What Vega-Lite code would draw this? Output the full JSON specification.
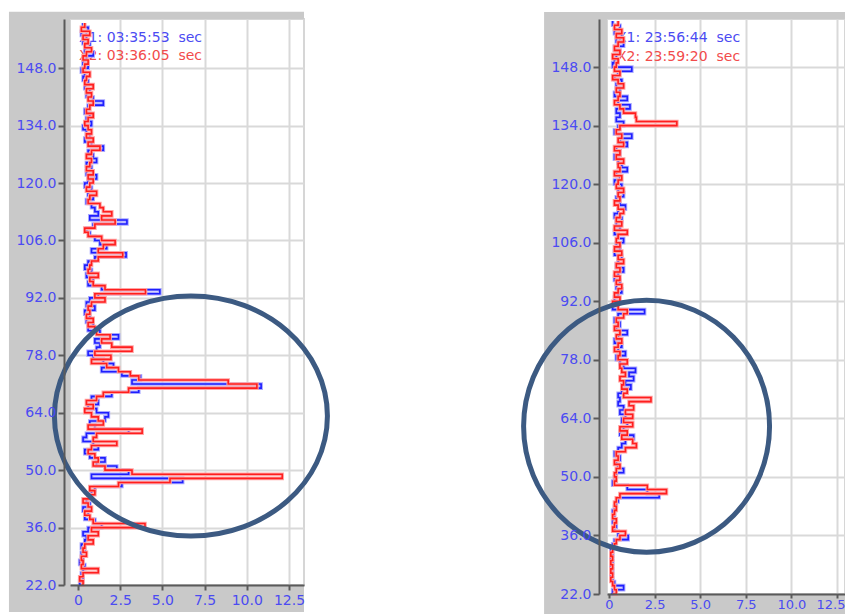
{
  "$schema": "https://vega.github.io/schema/vega-lite/v6.json",
  "background": "white",
  "padding": {"left": 7, "top": 10, "right": 0, "bottom": 0},
  "bounds": "flush",
  "spacing": 303,
  "config": {
    "font": "DejaVu Sans",
    "view": {"fill": "white", "stroke": "#d6d6d6", "strokeWidth": 2},
    "axis": {
      "labelFont": "DejaVu Sans", "labelFontSize": 14, "labelColor": "#4b4bf2",
      "domainColor": "#5a5a5a", "domainWidth": 2, "tickColor": "#5a5a5a", "tickWidth": 2,
      "gridColor": "#d9d9d9", "gridWidth": 2
    }
  },
  "datasets": {
    "left": [
      {"y": 159, "b": 0.3, "r": 0.4}, {"y": 158, "b": 0.6, "r": 0.2}, {"y": 157, "b": 0.2, "r": 0.7},
      {"y": 156, "b": 0.5, "r": 0.3}, {"y": 155, "b": 0.3, "r": 0.6}, {"y": 154, "b": 0.7, "r": 0.4},
      {"y": 153, "b": 0.4, "r": 0.8}, {"y": 152, "b": 0.9, "r": 0.5}, {"y": 151, "b": 0.5, "r": 0.3},
      {"y": 150, "b": 0.3, "r": 0.6}, {"y": 149, "b": 0.6, "r": 0.4}, {"y": 148, "b": 0.2, "r": 0.3},
      {"y": 147, "b": 0.4, "r": 0.7}, {"y": 146, "b": 0.3, "r": 0.5}, {"y": 145, "b": 0.6, "r": 0.4},
      {"y": 144, "b": 0.4, "r": 0.9}, {"y": 143, "b": 0.7, "r": 0.5}, {"y": 142, "b": 0.5, "r": 0.8},
      {"y": 141, "b": 0.9, "r": 0.6}, {"y": 140, "b": 1.5, "r": 0.9}, {"y": 139, "b": 0.6, "r": 0.7},
      {"y": 138, "b": 0.4, "r": 0.5}, {"y": 137, "b": 0.7, "r": 0.9}, {"y": 136, "b": 0.5, "r": 0.6},
      {"y": 135, "b": 0.8, "r": 0.4}, {"y": 134, "b": 0.3, "r": 0.6}, {"y": 133, "b": 0.5, "r": 0.8},
      {"y": 132, "b": 0.7, "r": 0.5}, {"y": 131, "b": 0.4, "r": 0.9}, {"y": 130, "b": 0.8, "r": 0.6},
      {"y": 129, "b": 1.5, "r": 1.3}, {"y": 128, "b": 0.6, "r": 0.8}, {"y": 127, "b": 0.9, "r": 0.5},
      {"y": 126, "b": 1.1, "r": 0.8}, {"y": 125, "b": 0.5, "r": 0.7}, {"y": 124, "b": 0.8, "r": 0.5},
      {"y": 123, "b": 0.5, "r": 0.9}, {"y": 122, "b": 1.1, "r": 0.6}, {"y": 121, "b": 0.6, "r": 0.9},
      {"y": 120, "b": 0.4, "r": 0.7}, {"y": 119, "b": 0.8, "r": 0.5}, {"y": 118, "b": 0.6, "r": 1.1},
      {"y": 117, "b": 0.9, "r": 0.7}, {"y": 116, "b": 0.5, "r": 0.6}, {"y": 115, "b": 0.8, "r": 1.3},
      {"y": 114, "b": 1.0, "r": 1.5}, {"y": 113, "b": 1.2, "r": 2.0}, {"y": 112, "b": 0.7, "r": 1.4},
      {"y": 111, "b": 2.9, "r": 2.2}, {"y": 110, "b": 0.9, "r": 1.0}, {"y": 109, "b": 0.5, "r": 0.4},
      {"y": 108, "b": 0.7, "r": 0.6}, {"y": 107, "b": 1.0, "r": 1.4}, {"y": 106, "b": 1.3, "r": 2.2},
      {"y": 105, "b": 1.7, "r": 1.5}, {"y": 104, "b": 0.8, "r": 1.2}, {"y": 103, "b": 2.85, "r": 2.65},
      {"y": 102, "b": 1.0, "r": 1.2}, {"y": 101, "b": 0.6, "r": 0.8}, {"y": 100, "b": 0.4, "r": 0.7},
      {"y": 99, "b": 0.8, "r": 0.6}, {"y": 98, "b": 0.5, "r": 1.2}, {"y": 97, "b": 0.9, "r": 0.7},
      {"y": 96, "b": 0.6, "r": 0.9}, {"y": 95, "b": 1.4, "r": 1.6}, {"y": 94, "b": 4.85, "r": 4.0},
      {"y": 93, "b": 1.2, "r": 1.0}, {"y": 92, "b": 0.7, "r": 1.6}, {"y": 91, "b": 0.5, "r": 0.8},
      {"y": 90, "b": 1.0, "r": 0.6}, {"y": 89, "b": 0.4, "r": 0.7}, {"y": 88, "b": 0.7, "r": 0.5},
      {"y": 87, "b": 0.5, "r": 0.9}, {"y": 86, "b": 0.9, "r": 0.6}, {"y": 85, "b": 0.6, "r": 1.0},
      {"y": 84, "b": 1.3, "r": 1.1}, {"y": 83, "b": 2.4, "r": 1.9}, {"y": 82, "b": 1.0, "r": 1.4},
      {"y": 81, "b": 1.3, "r": 2.0}, {"y": 80, "b": 1.1, "r": 3.2}, {"y": 79, "b": 0.6, "r": 1.0},
      {"y": 78, "b": 0.9, "r": 1.95}, {"y": 77, "b": 1.5, "r": 0.8}, {"y": 76, "b": 2.1, "r": 1.7},
      {"y": 75, "b": 1.4, "r": 2.4}, {"y": 74, "b": 2.6, "r": 3.1}, {"y": 73, "b": 3.7, "r": 3.6},
      {"y": 72, "b": 3.2, "r": 8.9}, {"y": 71, "b": 10.85, "r": 10.6}, {"y": 70, "b": 3.6, "r": 3.0},
      {"y": 69, "b": 2.0, "r": 1.5}, {"y": 68, "b": 0.8, "r": 1.1}, {"y": 67, "b": 1.2, "r": 0.5},
      {"y": 66, "b": 0.6, "r": 0.9}, {"y": 65, "b": 1.1, "r": 0.4}, {"y": 64, "b": 1.8, "r": 0.8},
      {"y": 63, "b": 1.6, "r": 1.2}, {"y": 62, "b": 0.7, "r": 1.5}, {"y": 61, "b": 1.0, "r": 0.6},
      {"y": 60, "b": 3.0, "r": 3.8}, {"y": 59, "b": 0.5, "r": 1.1}, {"y": 58, "b": 0.3, "r": 0.9},
      {"y": 57, "b": 0.9, "r": 2.3}, {"y": 56, "b": 1.2, "r": 0.8}, {"y": 55, "b": 0.4, "r": 0.6},
      {"y": 54, "b": 0.7, "r": 1.0}, {"y": 53, "b": 1.6, "r": 1.2}, {"y": 52, "b": 1.1, "r": 0.9},
      {"y": 51, "b": 2.3, "r": 1.6}, {"y": 50, "b": 3.0, "r": 3.2}, {"y": 49, "b": 0.8, "r": 12.1},
      {"y": 48, "b": 6.2, "r": 5.45}, {"y": 47, "b": 2.6, "r": 2.4}, {"y": 46, "b": 1.0, "r": 0.7},
      {"y": 45, "b": 0.8, "r": 1.0}, {"y": 44, "b": 0.6, "r": 0.7}, {"y": 43, "b": 0.5, "r": 0.3},
      {"y": 42, "b": 0.7, "r": 0.6}, {"y": 41, "b": 0.3, "r": 0.8}, {"y": 40, "b": 0.6, "r": 0.4},
      {"y": 39, "b": 0.4, "r": 0.7}, {"y": 38, "b": 1.0, "r": 0.9}, {"y": 37, "b": 1.4, "r": 3.97},
      {"y": 36, "b": 0.6, "r": 0.8}, {"y": 35, "b": 0.3, "r": 1.2}, {"y": 34, "b": 0.5, "r": 0.6},
      {"y": 33, "b": 0.4, "r": 0.9}, {"y": 32, "b": 0.2, "r": 0.4}, {"y": 31, "b": 0.4, "r": 0.3},
      {"y": 30, "b": 0.2, "r": 0.5}, {"y": 29, "b": 0.3, "r": 0.2}, {"y": 28, "b": 0.1, "r": 0.3},
      {"y": 27, "b": 0.4, "r": 0.2}, {"y": 26, "b": 0.3, "r": 1.2}, {"y": 25, "b": 0.2, "r": 0.3},
      {"y": 24, "b": 0.3, "r": 0.1}, {"y": 23, "b": 0.1, "r": 0.3}, {"y": 22, "b": 0.2, "r": 0.2}
    ],
    "right": [
      {"y": 159, "b": 0.2, "r": 0.5}, {"y": 158, "b": 0.6, "r": 0.3}, {"y": 157, "b": 0.3, "r": 0.7},
      {"y": 156, "b": 0.7, "r": 0.4}, {"y": 155, "b": 0.4, "r": 0.8}, {"y": 154, "b": 0.8, "r": 0.5},
      {"y": 153, "b": 0.3, "r": 0.3}, {"y": 152, "b": 0.6, "r": 0.6}, {"y": 151, "b": 0.4, "r": 0.2},
      {"y": 150, "b": 0.3, "r": 0.5}, {"y": 149, "b": 0.2, "r": 0.4}, {"y": 148, "b": 1.25, "r": 0.3},
      {"y": 147, "b": 0.5, "r": 0.6}, {"y": 146, "b": 0.3, "r": 0.2}, {"y": 145, "b": 0.7, "r": 0.5},
      {"y": 144, "b": 0.4, "r": 0.8}, {"y": 143, "b": 0.6, "r": 0.4}, {"y": 142, "b": 0.3, "r": 0.6},
      {"y": 141, "b": 1.0, "r": 0.5}, {"y": 140, "b": 0.5, "r": 0.3}, {"y": 139, "b": 1.15, "r": 0.6},
      {"y": 138, "b": 0.4, "r": 0.8}, {"y": 137, "b": 0.6, "r": 1.45}, {"y": 136, "b": 0.4, "r": 1.5},
      {"y": 135, "b": 0.8, "r": 3.72}, {"y": 134, "b": 0.5, "r": 0.6}, {"y": 133, "b": 0.3, "r": 0.4},
      {"y": 132, "b": 1.25, "r": 0.7}, {"y": 131, "b": 0.6, "r": 0.5}, {"y": 130, "b": 1.0, "r": 0.8},
      {"y": 129, "b": 0.4, "r": 0.3}, {"y": 128, "b": 0.6, "r": 0.6}, {"y": 127, "b": 0.3, "r": 0.4},
      {"y": 126, "b": 0.5, "r": 0.8}, {"y": 125, "b": 0.7, "r": 0.5}, {"y": 124, "b": 1.0, "r": 0.6},
      {"y": 123, "b": 0.4, "r": 0.3}, {"y": 122, "b": 0.6, "r": 0.7}, {"y": 121, "b": 0.3, "r": 0.5},
      {"y": 120, "b": 0.7, "r": 0.4}, {"y": 119, "b": 0.5, "r": 0.8}, {"y": 118, "b": 0.8, "r": 0.5},
      {"y": 117, "b": 0.4, "r": 0.6}, {"y": 116, "b": 0.6, "r": 0.3}, {"y": 115, "b": 0.9, "r": 0.5},
      {"y": 114, "b": 0.5, "r": 0.8}, {"y": 113, "b": 0.3, "r": 0.6}, {"y": 112, "b": 0.7, "r": 0.4},
      {"y": 111, "b": 0.4, "r": 0.7}, {"y": 110, "b": 0.6, "r": 0.3}, {"y": 109, "b": 0.3, "r": 1.0},
      {"y": 108, "b": 0.5, "r": 0.5}, {"y": 107, "b": 0.8, "r": 0.4}, {"y": 106, "b": 0.4, "r": 0.6},
      {"y": 105, "b": 0.6, "r": 0.3}, {"y": 104, "b": 0.3, "r": 0.7}, {"y": 103, "b": 0.7, "r": 0.5},
      {"y": 102, "b": 0.5, "r": 0.8}, {"y": 101, "b": 0.4, "r": 0.4}, {"y": 100, "b": 0.8, "r": 0.6},
      {"y": 99, "b": 0.5, "r": 0.3}, {"y": 98, "b": 0.3, "r": 0.6}, {"y": 97, "b": 0.6, "r": 0.4},
      {"y": 96, "b": 0.4, "r": 0.7}, {"y": 95, "b": 0.7, "r": 0.5}, {"y": 94, "b": 0.5, "r": 0.3},
      {"y": 93, "b": 0.3, "r": 0.6}, {"y": 92, "b": 0.4, "r": 0.2}, {"y": 91, "b": 0.2, "r": 0.5},
      {"y": 90, "b": 1.95, "r": 1.0}, {"y": 89, "b": 0.5, "r": 0.8}, {"y": 88, "b": 0.3, "r": 0.4},
      {"y": 87, "b": 0.6, "r": 0.5}, {"y": 86, "b": 0.4, "r": 0.3}, {"y": 85, "b": 1.0, "r": 0.6},
      {"y": 84, "b": 0.5, "r": 0.4}, {"y": 83, "b": 0.3, "r": 0.7}, {"y": 82, "b": 0.7, "r": 0.5},
      {"y": 81, "b": 0.5, "r": 0.3}, {"y": 80, "b": 0.9, "r": 0.6}, {"y": 79, "b": 0.4, "r": 0.5},
      {"y": 78, "b": 0.6, "r": 1.0}, {"y": 77, "b": 0.8, "r": 0.6}, {"y": 76, "b": 1.45, "r": 0.7},
      {"y": 75, "b": 1.1, "r": 0.9}, {"y": 74, "b": 1.35, "r": 0.6}, {"y": 73, "b": 0.9, "r": 0.8},
      {"y": 72, "b": 1.2, "r": 0.7}, {"y": 71, "b": 0.7, "r": 1.0}, {"y": 70, "b": 0.5, "r": 0.8},
      {"y": 69, "b": 0.6, "r": 2.3}, {"y": 68, "b": 0.5, "r": 1.1}, {"y": 67, "b": 0.8, "r": 1.35},
      {"y": 66, "b": 0.6, "r": 0.9}, {"y": 65, "b": 0.9, "r": 1.3}, {"y": 64, "b": 0.7, "r": 0.8},
      {"y": 63, "b": 1.0, "r": 1.3}, {"y": 62, "b": 0.8, "r": 0.6}, {"y": 61, "b": 0.6, "r": 1.0},
      {"y": 60, "b": 1.35, "r": 0.7}, {"y": 59, "b": 0.9, "r": 1.3}, {"y": 58, "b": 0.7, "r": 1.5},
      {"y": 57, "b": 0.5, "r": 0.9}, {"y": 56, "b": 0.3, "r": 0.4}, {"y": 55, "b": 0.6, "r": 0.5},
      {"y": 54, "b": 0.4, "r": 0.3}, {"y": 53, "b": 0.5, "r": 0.6}, {"y": 52, "b": 0.8, "r": 0.4},
      {"y": 51, "b": 0.4, "r": 0.3}, {"y": 50, "b": 0.3, "r": 0.4}, {"y": 49, "b": 0.2, "r": 0.3},
      {"y": 48, "b": 1.0, "r": 2.1}, {"y": 47, "b": 2.1, "r": 3.15}, {"y": 46, "b": 2.75, "r": 0.6},
      {"y": 45, "b": 0.5, "r": 0.4}, {"y": 44, "b": 0.4, "r": 0.3}, {"y": 43, "b": 0.3, "r": 0.4},
      {"y": 42, "b": 0.2, "r": 0.3}, {"y": 41, "b": 0.3, "r": 0.2}, {"y": 40, "b": 0.2, "r": 0.4},
      {"y": 39, "b": 0.4, "r": 0.3}, {"y": 38, "b": 0.3, "r": 0.2}, {"y": 37, "b": 0.5, "r": 0.9},
      {"y": 36, "b": 1.05, "r": 0.6}, {"y": 35, "b": 0.3, "r": 0.4}, {"y": 34, "b": 0.2, "r": 0.3},
      {"y": 33, "b": 0.1, "r": 0.2}, {"y": 32, "b": 0.2, "r": 0.1}, {"y": 31, "b": 0.1, "r": 0.2},
      {"y": 30, "b": 0.2, "r": 0.1}, {"y": 29, "b": 0.1, "r": 0.2}, {"y": 28, "b": 0.2, "r": 0.1},
      {"y": 27, "b": 0.1, "r": 0.2}, {"y": 26, "b": 0.2, "r": 0.1}, {"y": 25, "b": 0.3, "r": 0.2},
      {"y": 24, "b": 0.8, "r": 0.3}, {"y": 23, "b": 0.2, "r": 0.4}, {"y": 22, "b": 0.1, "r": 0.2}
    ]
  },
  "hconcat": [
    {
      "width": 234,
      "height": 566,
      "resolve": {"axis": {"x": "independent", "y": "independent"}},
      "layer": [
        {
          "data": {"values": [{}]},
          "mark": {"type": "rect", "color": "#c9c9c9"},
          "encoding": {
            "x": {"datum": -4.09, "type": "quantitative", "scale": {"domain": [-0.474, 13.39], "nice": false, "zero": false},
              "axis": {"orient": "bottom", "zindex": 1, "grid": false, "title": null, "values": [0, 2.5, 5, 7.5, 10, 12.5],
                "labelExpr": "datum.value == 0 ? '0' : format(datum.value, '.1f')", "tickSize": 5, "labelPadding": 3}},
            "x2": {"datum": -0.474},
            "y": {"datum": 15.41, "type": "quantitative", "scale": {"domain": [22, 160], "nice": false, "zero": false},
              "axis": {"orient": "left", "zindex": 1, "grid": false, "title": null, "values": [22, 36, 50, 64, 78, 92, 106, 120, 134, 148],
                "format": ".1f", "offset": 6, "tickSize": 6, "labelPadding": 2}},
            "y2": {"datum": 161.76}
          }
        },
        {
          "data": {"values": [{}]},
          "mark": {"type": "rect", "color": "#c9c9c9"},
          "encoding": {
            "x": {"datum": -0.474, "type": "quantitative", "scale": {"domain": [-0.474, 13.39], "nice": false, "zero": false}, "axis": null},
            "x2": {"datum": 13.39},
            "y": {"datum": 160, "type": "quantitative", "scale": {"domain": [22, 160], "nice": false, "zero": false}, "axis": null},
            "y2": {"datum": 161.76}
          }
        },
        {
          "data": {"values": [{}]},
          "mark": {"type": "rect", "color": "#c9c9c9"},
          "encoding": {
            "x": {"datum": -0.474, "type": "quantitative", "scale": {"domain": [-0.474, 13.39], "nice": false, "zero": false}, "axis": null},
            "x2": {"datum": 13.39},
            "y": {"datum": 15.41, "type": "quantitative", "scale": {"domain": [22, 160], "nice": false, "zero": false}, "axis": null},
            "y2": {"datum": 22}
          }
        },
        {
          "data": {"values": [{}]},
          "mark": {"type": "text", "text": "X1: 03:35:53\u00a0 sec", "align": "left", "baseline": "middle", "fontSize": 14, "font": "DejaVu Sans", "color": "#4b4bf2"},
          "encoding": {
            "x": {"datum": 0.06, "type": "quantitative", "scale": {"domain": [-0.474, 13.39], "nice": false, "zero": false}, "axis": null},
            "y": {"datum": 155.4, "type": "quantitative", "scale": {"domain": [22, 160], "nice": false, "zero": false}, "axis": null}
          }
        },
        {
          "data": {"values": [{}]},
          "mark": {"type": "text", "text": "X2: 03:36:05\u00a0 sec", "align": "left", "baseline": "middle", "fontSize": 14, "font": "DejaVu Sans", "color": "#f24b4b"},
          "encoding": {
            "x": {"datum": 0.06, "type": "quantitative", "scale": {"domain": [-0.474, 13.39], "nice": false, "zero": false}, "axis": null},
            "y": {"datum": 151.0, "type": "quantitative", "scale": {"domain": [22, 160], "nice": false, "zero": false}, "axis": null}
          }
        },
        {
          "data": {"name": "left"},
          "mark": {"type": "line", "interpolate": "step-after", "color": "#a8a8ff", "strokeWidth": 3.6},
          "encoding": {
            "x": {"field": "b", "type": "quantitative", "scale": {"domain": [-0.474, 13.39], "nice": false, "zero": false},
              "axis": {"orient": "bottom", "zindex": 0, "grid": true, "labels": false, "ticks": false, "domain": false, "title": null, "values": [2.5, 5, 7.5, 10, 12.5]}},
            "y": {"field": "y", "type": "quantitative", "scale": {"domain": [22, 160], "nice": false, "zero": false},
              "axis": {"orient": "left", "zindex": 0, "grid": true, "labels": false, "ticks": false, "domain": false, "title": null, "values": [36, 50, 64, 78, 92, 106, 120, 134, 148]}},
            "order": {"field": "y", "type": "quantitative"}
          }
        },
        {
          "data": {"name": "left"},
          "mark": {"type": "line", "interpolate": "step-after", "color": "#1e1eff", "strokeWidth": 1.6},
          "encoding": {
            "x": {"field": "b", "type": "quantitative", "scale": {"domain": [-0.474, 13.39], "nice": false, "zero": false}, "axis": null},
            "y": {"field": "y", "type": "quantitative", "scale": {"domain": [22, 160], "nice": false, "zero": false}, "axis": null},
            "order": {"field": "y", "type": "quantitative"}
          }
        },
        {
          "data": {"name": "left"},
          "mark": {"type": "line", "interpolate": "step-after", "color": "#ffa4a4", "strokeWidth": 3.6},
          "encoding": {
            "x": {"field": "r", "type": "quantitative", "scale": {"domain": [-0.474, 13.39], "nice": false, "zero": false}, "axis": null},
            "y": {"field": "y", "type": "quantitative", "scale": {"domain": [22, 160], "nice": false, "zero": false}, "axis": null},
            "order": {"field": "y", "type": "quantitative"}
          }
        },
        {
          "data": {"name": "left"},
          "mark": {"type": "line", "interpolate": "step-after", "color": "#ff1e1e", "strokeWidth": 1.6},
          "encoding": {
            "x": {"field": "r", "type": "quantitative", "scale": {"domain": [-0.474, 13.39], "nice": false, "zero": false}, "axis": null},
            "y": {"field": "y", "type": "quantitative", "scale": {"domain": [22, 160], "nice": false, "zero": false}, "axis": null},
            "order": {"field": "y", "type": "quantitative"}
          }
        },
        {
          "data": {"values": [{}]},
          "mark": {"type": "point", "shape": "M-1,0A1,0.879 0 1,0 1,0A1,0.879 0 1,0 -1,0Z", "size": 74529, "filled": false, "stroke": "#3c5a82", "strokeWidth": 5, "opacity": 1},
          "encoding": {
            "x": {"datum": 6.69, "type": "quantitative", "scale": {"domain": [-0.474, 13.39], "nice": false, "zero": false}, "axis": null},
            "y": {"datum": 63.2, "type": "quantitative", "scale": {"domain": [22, 160], "nice": false, "zero": false}, "axis": null}
          }
        }
      ]
    },
    {
      "width": 238,
      "height": 575,
      "resolve": {"axis": {"x": "independent", "y": "independent"}},
      "layer": [
        {
          "data": {"values": [{}]},
          "mark": {"type": "rect", "color": "#c9c9c9"},
          "encoding": {
            "x": {"datum": -3.56, "type": "quantitative", "scale": {"domain": [-0.11, 12.94], "nice": false, "zero": false},
              "axis": {"orient": "bottom", "zindex": 1, "grid": false, "title": null, "values": [0, 2.5, 5, 7.5, 10, 12.5],
                "labelExpr": "datum.value == 0 ? '0' : format(datum.value, '.1f')", "tickSize": 4, "labelPadding": 0, "labelFontSize": 13,
                "labelAlign": {"condition": {"test": "datum.value == 12.5", "value": "right"}, "value": "center"},
                "labelOffset": {"condition": {"test": "datum.value == 12.5", "value": 8}, "value": 0}}},
            "x2": {"datum": -0.11},
            "y": {"datum": 16.74, "type": "quantitative", "scale": {"domain": [22, 159.5], "nice": false, "zero": false},
              "axis": {"orient": "left", "zindex": 1, "grid": false, "title": null, "values": [22, 36, 50, 64, 78, 92, 106, 120, 134, 148],
                "format": ".1f", "offset": 8, "tickSize": 6, "labelPadding": 2}},
            "y2": {"datum": 161.17}
          }
        },
        {
          "data": {"values": [{}]},
          "mark": {"type": "rect", "color": "#c9c9c9"},
          "encoding": {
            "x": {"datum": -0.11, "type": "quantitative", "scale": {"domain": [-0.11, 12.94], "nice": false, "zero": false}, "axis": null},
            "x2": {"datum": 12.94},
            "y": {"datum": 159.5, "type": "quantitative", "scale": {"domain": [22, 159.5], "nice": false, "zero": false}, "axis": null},
            "y2": {"datum": 161.17}
          }
        },
        {
          "data": {"values": [{}]},
          "mark": {"type": "rect", "color": "#c9c9c9"},
          "encoding": {
            "x": {"datum": -0.11, "type": "quantitative", "scale": {"domain": [-0.11, 12.94], "nice": false, "zero": false}, "axis": null},
            "x2": {"datum": 12.94},
            "y": {"datum": 16.74, "type": "quantitative", "scale": {"domain": [22, 159.5], "nice": false, "zero": false}, "axis": null},
            "y2": {"datum": 22}
          }
        },
        {
          "data": {"values": [{}]},
          "mark": {"type": "text", "text": "X1: 23:56:44\u00a0 sec", "align": "left", "baseline": "middle", "fontSize": 14, "font": "DejaVu Sans", "color": "#4b4bf2"},
          "encoding": {
            "x": {"datum": 0.44, "type": "quantitative", "scale": {"domain": [-0.11, 12.94], "nice": false, "zero": false}, "axis": null},
            "y": {"datum": 155.0, "type": "quantitative", "scale": {"domain": [22, 159.5], "nice": false, "zero": false}, "axis": null}
          }
        },
        {
          "data": {"values": [{}]},
          "mark": {"type": "text", "text": "X2: 23:59:20\u00a0 sec", "align": "left", "baseline": "middle", "fontSize": 14, "font": "DejaVu Sans", "color": "#f24b4b"},
          "encoding": {
            "x": {"datum": 0.44, "type": "quantitative", "scale": {"domain": [-0.11, 12.94], "nice": false, "zero": false}, "axis": null},
            "y": {"datum": 150.5, "type": "quantitative", "scale": {"domain": [22, 159.5], "nice": false, "zero": false}, "axis": null}
          }
        },
        {
          "data": {"name": "right"},
          "mark": {"type": "line", "interpolate": "step-after", "color": "#a8a8ff", "strokeWidth": 3.6},
          "encoding": {
            "x": {"field": "b", "type": "quantitative", "scale": {"domain": [-0.11, 12.94], "nice": false, "zero": false},
              "axis": {"orient": "bottom", "zindex": 0, "grid": true, "labels": false, "ticks": false, "domain": false, "title": null, "values": [2.5, 5, 7.5, 10, 12.5]}},
            "y": {"field": "y", "type": "quantitative", "scale": {"domain": [22, 159.5], "nice": false, "zero": false},
              "axis": {"orient": "left", "zindex": 0, "grid": true, "labels": false, "ticks": false, "domain": false, "title": null, "values": [36, 50, 64, 78, 92, 106, 120, 134, 148]}},
            "order": {"field": "y", "type": "quantitative"}
          }
        },
        {
          "data": {"name": "right"},
          "mark": {"type": "line", "interpolate": "step-after", "color": "#1e1eff", "strokeWidth": 1.6},
          "encoding": {
            "x": {"field": "b", "type": "quantitative", "scale": {"domain": [-0.11, 12.94], "nice": false, "zero": false}, "axis": null},
            "y": {"field": "y", "type": "quantitative", "scale": {"domain": [22, 159.5], "nice": false, "zero": false}, "axis": null},
            "order": {"field": "y", "type": "quantitative"}
          }
        },
        {
          "data": {"name": "right"},
          "mark": {"type": "line", "interpolate": "step-after", "color": "#ffa4a4", "strokeWidth": 3.6},
          "encoding": {
            "x": {"field": "r", "type": "quantitative", "scale": {"domain": [-0.11, 12.94], "nice": false, "zero": false}, "axis": null},
            "y": {"field": "y", "type": "quantitative", "scale": {"domain": [22, 159.5], "nice": false, "zero": false}, "axis": null},
            "order": {"field": "y", "type": "quantitative"}
          }
        },
        {
          "data": {"name": "right"},
          "mark": {"type": "line", "interpolate": "step-after", "color": "#ff1e1e", "strokeWidth": 1.6},
          "encoding": {
            "x": {"field": "r", "type": "quantitative", "scale": {"domain": [-0.11, 12.94], "nice": false, "zero": false}, "axis": null},
            "y": {"field": "y", "type": "quantitative", "scale": {"domain": [22, 159.5], "nice": false, "zero": false}, "axis": null},
            "order": {"field": "y", "type": "quantitative"}
          }
        },
        {
          "data": {"values": [{}]},
          "mark": {"type": "point", "shape": "M-0.976,0A0.976,1 0 1,0 0.976,0A0.976,1 0 1,0 -0.976,0Z", "size": 63504, "filled": false, "stroke": "#3c5a82", "strokeWidth": 5, "opacity": 1},
          "encoding": {
            "x": {"datum": 2.06, "type": "quantitative", "scale": {"domain": [-0.11, 12.94], "nice": false, "zero": false}, "axis": null},
            "y": {"datum": 62.1, "type": "quantitative", "scale": {"domain": [22, 159.5], "nice": false, "zero": false}, "axis": null}
          }
        }
      ]
    }
  ]
}
